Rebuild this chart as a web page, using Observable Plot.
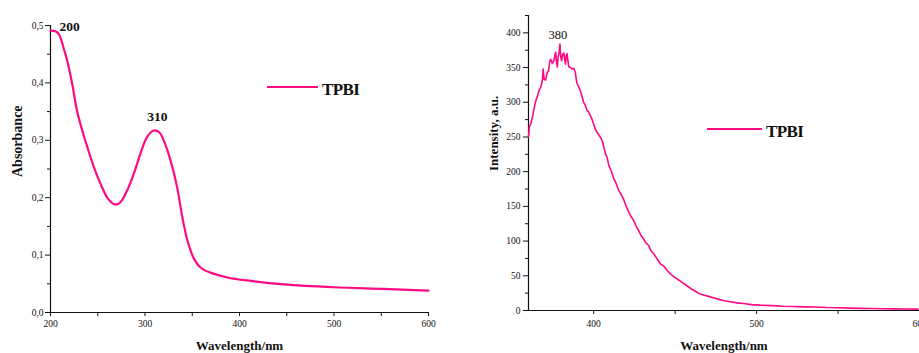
<!DOCTYPE html>
<html>
<head>
<meta charset="utf-8">
<script src="https://cdn.jsdelivr.net/npm/d3@7"></script>
<script src="https://cdn.jsdelivr.net/npm/@observablehq/plot@0.6"></script>
<style>
  html, body { margin: 0; padding: 0; background: #fff; }
  #wrap { display: flex; width: 919px; height: 353px; overflow: hidden; }
  #wrap svg { flex: none; }
</style>
</head>
<body>
<div id="wrap"></div>
<script>
// ---------- Data: absorbance (left) ----------
const absWl  = [200, 205, 208, 211, 214, 218, 223, 228, 234, 239, 246, 253, 260, 265, 269, 274, 281, 288, 295, 302, 309, 315, 320, 327, 334, 340, 345, 352, 359, 370, 387, 412, 447, 500, 553, 600];
const absVal = [0.491, 0.490, 0.487, 0.477, 0.460, 0.437, 0.398, 0.352, 0.315, 0.288, 0.253, 0.224, 0.200, 0.191, 0.188, 0.192, 0.212, 0.241, 0.276, 0.305, 0.317, 0.314, 0.299, 0.265, 0.218, 0.162, 0.125, 0.093, 0.078, 0.069, 0.061, 0.055, 0.049, 0.044, 0.041, 0.038];
const absPeaks = [200, 310];
const absXTicks = [200, 300, 400, 500, 600];
const absXMinor = [250, 350, 450, 550];
const absYTicks = [0, 0.1, 0.2, 0.3, 0.4, 0.5];
const absYMinor = [0.05, 0.15, 0.25, 0.35, 0.45];

// ---------- Data: photoluminescence (right) ----------
const plWl  = [360, 360.5, 361.4, 362.4, 363.5, 364.5, 365.5, 366.5, 367.5, 368.5, 369.0, 369.6, 370.5, 371.5, 372.3, 373.0, 373.6, 374.6, 375.6, 376.2, 376.7, 377.2, 377.7, 378.2, 378.7, 379.3, 379.8, 380.3, 381.0, 381.7, 382.2, 382.7, 383.2, 383.7, 384.2, 384.7, 385.7, 386.8, 387.8, 388.8, 389.3, 389.8, 390.8, 391.8, 392.8, 393.8, 394.8, 395.9, 396.9, 397.9, 398.9, 399.9, 400.9, 401.9, 403.0, 404.0, 405.2, 406.2, 407.2, 408.2, 409.3, 410.8, 412.3, 413.8, 415.4, 416.9, 418.4, 420.0, 421.5, 423.0, 424.5, 426.0, 427.6, 429.1, 430.6, 432.2, 433.7, 435.2, 436.7, 438.5, 441, 443, 445, 447, 449, 451, 454, 457, 460, 463, 465, 468, 471, 474, 477, 480, 484, 488, 492, 497, 502, 510, 516, 522, 530, 536, 543, 550, 557, 563, 570, 578, 585, 592, 599];
const plVal = [250, 264, 269, 278, 292, 302, 309, 317, 322, 331, 348, 333, 332, 343, 345, 358, 362, 356, 360, 368, 372, 358, 351, 366, 370, 384, 365, 360, 369, 371, 362, 355, 368, 370, 360, 351, 350, 348, 349, 343, 333, 327, 322, 317, 309, 300, 296, 288, 286, 281, 276, 269, 262, 257, 254, 250, 245, 236, 226, 221, 209, 201, 190, 183, 173, 167, 160, 150, 142, 135, 130, 122, 115, 108, 103, 97, 94, 86, 82, 76, 67, 64, 58, 53, 49, 46, 41, 36, 31, 27, 24, 22, 20, 18, 16, 14, 12.5, 11, 10, 8.5, 7.7, 7, 6.2, 5.8, 5.2, 5, 4.3, 4, 3.4, 3, 2.8, 2.5, 2.3, 2.1, 2];
const plPeaks = [379.3];
const plPeakLabels = ["380"];
const plXTicks = [400, 500, 600];
const plXMinor = [450, 550];
const plYTicks = [0, 50, 100, 150, 200, 250, 300, 350, 400];
const plYMinor = [25, 75, 125, 175, 225, 275, 325, 375, 425];

const seriesName = "TPBI";
const lineColor = "#ff0a84";
const FONT = "'Liberation Serif', 'DejaVu Serif', serif";

const absData = absWl.map((w, i) => ({w, v: absVal[i]}));
const plData = plWl.map((w, i) => ({w, v: plVal[i]}));
const absPeakData = absPeaks.map(p => ({w: p, v: absData.reduce((a, b) => Math.abs(b.w - p) < Math.abs(a.w - p) ? b : a).v, label: String(p)}));
const plPeakData = plPeaks.map((p, i) => ({w: p, v: plData.find(d => d.w === p).v, label: plPeakLabels[i]}));

const commaFmt = d => d3.format(".1f")(d).replace(".", ",");

function addLegend(svg, x1, x2, y, tx, ty) {
  const s = d3.select(svg);
  s.append("line").attr("x1", x1).attr("x2", x2).attr("y1", y).attr("y2", y)
    .attr("stroke", lineColor).attr("stroke-width", 2.2);
  s.append("text").attr("x", tx).attr("y", ty).text(seriesName)
    .attr("text-anchor", "start")
    .attr("font-family", FONT).attr("font-weight", "bold").attr("font-size", 17)
    .attr("letter-spacing", -0.6).attr("fill", "#111");
}

// ---------- Left chart ----------
const left = Plot.plot({
  width: 460, height: 353,
  marginLeft: 50, marginRight: 32, marginTop: 25, marginBottom: 41,
  style: {fontFamily: FONT, background: "#fff", color: "#111"},
  x: {domain: [200, 600]},
  y: {domain: [0, 0.5]},
  marks: [
    Plot.axisX({ticks: absXTicks, tickSize: 4, tickPadding: 4, fontSize: 9.5, label: null, tickFormat: d3.format("d")}),
    Plot.axisX({ticks: absXMinor, tickSize: 4, tickFormat: () => "", label: null}),
    Plot.axisY({ticks: absYTicks, tickSize: 5, tickPadding: 2, fontSize: 9.5, label: null, tickFormat: commaFmt}),
    Plot.axisY({ticks: absYMinor, tickSize: 3, tickFormat: () => "", label: null}),
    Plot.ruleX([200], {stroke: "#111", strokeWidth: 1.2}),
    Plot.ruleY([0], {stroke: "#111", strokeWidth: 1.2}),
    Plot.line(absData, {x: "w", y: "v", stroke: lineColor, strokeWidth: 2.2, curve: "catmull-rom"}),
    Plot.text(absPeakData.slice(0, 1), {x: "w", y: "v", text: "label", dx: 19, dy: 0, lineAnchor: "bottom", fontWeight: "bold", fontSize: 13.5, letterSpacing: -0.5}),
    Plot.text(absPeakData.slice(1), {x: "w", y: "v", text: "label", dx: 3, dy: -10, lineAnchor: "bottom", fontWeight: "bold", fontSize: 13.5, letterSpacing: -0.5}),
    Plot.text(["Wavelength/nm"], {frameAnchor: "bottom", dy: 28, lineAnchor: "top", fontWeight: "bold", fontSize: 13, letterSpacing: -0.3}),
    Plot.text(["Absorbance"], {frameAnchor: "left", rotate: -90, dx: -33, dy: 8, fontWeight: "bold", fontSize: 14, letterSpacing: 0.3})
  ]
});
addLegend(left, 267, 318, 87, 322, 95);

// ---------- Right chart ----------
const right = Plot.plot({
  width: 459, height: 353,
  marginLeft: 68, marginRight: 0, marginTop: 15, marginBottom: 43,
  style: {fontFamily: FONT, background: "#fff", color: "#111", overflow: "visible"},
  x: {domain: [360, 600]},
  y: {domain: [0, 425]},
  marks: [
    Plot.axisX({ticks: plXTicks, tickSize: 4, tickPadding: 6, fontSize: 9.5, label: null, tickFormat: d3.format("d")}),
    Plot.axisX({ticks: plXMinor, tickSize: 4, tickFormat: () => "", label: null}),
    Plot.axisY({ticks: plYTicks, tickSize: 5, tickPadding: 3, fontSize: 9.5, label: null, tickFormat: d3.format("d")}),
    Plot.axisY({ticks: plYMinor, tickSize: 3, tickFormat: () => "", label: null}),
    Plot.ruleX([360], {stroke: "#111", strokeWidth: 1.2}),
    Plot.ruleY([0], {stroke: "#111", strokeWidth: 1.2}),
    Plot.line(plData, {x: "w", y: "v", stroke: lineColor, strokeWidth: 1.6}),
    Plot.text(plPeakData, {x: "w", y: "v", text: "label", dx: -2, dy: -5, lineAnchor: "bottom", fontSize: 12.5, letterSpacing: -0.4}),
    Plot.text(["Wavelength/nm"], {frameAnchor: "bottom", dy: 30, lineAnchor: "top", fontWeight: "bold", fontSize: 13, letterSpacing: -0.3}),
    Plot.text(["Intensity, a.u."], {frameAnchor: "left", rotate: -90, dx: -35, dy: 8, fontWeight: "bold", fontSize: 13})
  ]
});
addLegend(right, 247, 302, 129, 306, 137);

document.getElementById("wrap").append(left, right);
</script>
</body>
</html>
